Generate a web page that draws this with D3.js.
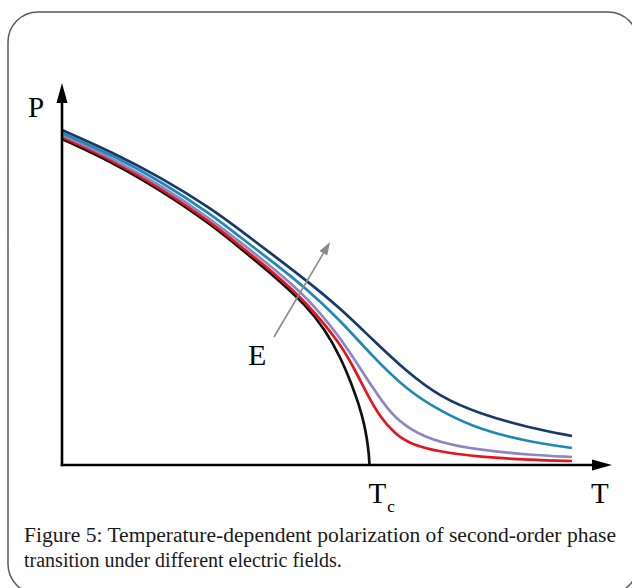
<!DOCTYPE html>
<html><head><meta charset="utf-8">
<script src="https://cdn.jsdelivr.net/npm/d3@7"></script>
<style>
html,body{margin:0;padding:0;background:#fff;}
svg{display:block;}
</style></head>
<body>
<svg id="chart" width="632" height="588"></svg>
<script>
// Temperature and polarization in arbitrary units (schematic figure)
const tDomain = [0, 550];
const pDomain = [0, 382];
const Tc = 307.5;

// E = 0: second-order transition, P drops to zero at Tc
const blackT = [0, 50, 100, 150, 178, 211, 245, 263, 278, 290, 297, 302, 305, 306.8, 307.5];
const blackP = [326, 303, 274, 240, 217, 190, 159, 135, 109, 80, 60, 42, 26, 12, 0];
// increasing electric field E
const redT = [0, 50, 100, 150, 178, 211, 245, 278, 293, 305, 318, 333, 348, 378, 418, 468, 510];
const redP = [328, 305, 276, 242, 219, 193, 162, 122, 95, 71, 48, 31, 21, 13, 8, 5, 4];
const lavT = [0, 50, 100, 150, 178, 211, 245, 278, 298, 311, 328, 348, 378, 418, 468, 510];
const lavP = [330, 307, 279, 245, 223, 197, 168, 128, 97, 77, 52, 35, 22, 15, 10, 8];
const tealT = [0, 50, 100, 150, 178, 211, 245, 278, 311, 345, 378, 418, 468, 510];
const tealP = [332, 310, 283, 250, 228, 203, 176, 145, 108, 75, 54, 35, 23, 17];
const navyT = [0, 50, 100, 150, 178, 211, 245, 278, 311, 345, 378, 418, 468, 510];
const navyP = [335, 313, 287, 256, 235, 210, 184, 157, 125, 93, 68, 51, 37, 29];

const seriesColors = ["#111111", "#e3161d", "#8c86c2", "#1f88b3", "#173a6b"];
const seriesT = [blackT, redT, lavT, tealT, navyT];
const seriesP = [blackP, redP, lavP, tealP, navyP];

const caption1 = "Figure 5: Temperature-dependent polarization of second-order phase";
const caption2 = "transition under different electric fields.";

const svg = d3.select("#chart");
const x = d3.scaleLinear().domain(tDomain).range([62, 612]);
const y = d3.scaleLinear().domain(pDomain).range([465, 83]);

// rounded frame
svg.append("rect").attr("x", 8).attr("y", 12).attr("width", 630).attr("height", 582)
  .attr("rx", 30).attr("ry", 30).attr("fill", "none").attr("stroke", "#5a5a5a").attr("stroke-width", 1.5);

const line = d3.line().x(d => x(d[0])).y(d => y(d[1])).curve(d3.curveBasis);
[0, 1, 2, 3, 4].forEach(i => {
  const pts = seriesT[i].map((t, k) => [t, seriesP[i][k]]);
  svg.append("path").datum(pts).attr("d", line)
    .attr("fill", "none").attr("stroke", seriesColors[i]).attr("stroke-width", 2.7);
});

// axes with arrowheads
const axisColor = "#000";
svg.append("line").attr("x1", x(0)).attr("y1", y(0) + 1.3).attr("x2", x(0)).attr("y2", y(pDomain[1]) + 14)
  .attr("stroke", axisColor).attr("stroke-width", 2.6);
svg.append("path")
  .attr("d", `M${x(0)},${y(pDomain[1])} L${x(0)-5.5},${y(pDomain[1])+20} L${x(0)+5.5},${y(pDomain[1])+20} Z`)
  .attr("fill", axisColor);
svg.append("line").attr("x1", x(0) - 1.3).attr("y1", y(0)).attr("x2", x(tDomain[1]) - 14).attr("y2", y(0))
  .attr("stroke", axisColor).attr("stroke-width", 2.6);
svg.append("path")
  .attr("d", `M${x(tDomain[1])},${y(0)} L${x(tDomain[1])-20},${y(0)-5.5} L${x(tDomain[1])-20},${y(0)+5.5} Z`)
  .attr("fill", axisColor);

// E arrow
const eFrom = [212, 128], eTo = [268, 223];
const ex1 = x(eFrom[0]), ey1 = y(eFrom[1]), ex2 = x(eTo[0]), ey2 = y(eTo[1]);
const ang = Math.atan2(ey2 - ey1, ex2 - ex1);
const hl = 13, hw = 4.5;
const bx = ex2 - hl * Math.cos(ang), by = ey2 - hl * Math.sin(ang);
svg.append("line").attr("x1", ex1).attr("y1", ey1).attr("x2", bx).attr("y2", by)
  .attr("stroke", "#8a8a8a").attr("stroke-width", 1.6);
svg.append("path")
  .attr("d", `M${ex2},${ey2} L${bx + hw*Math.sin(ang)},${by - hw*Math.cos(ang)} L${bx - hw*Math.sin(ang)},${by + hw*Math.cos(ang)} Z`)
  .attr("fill", "#8a8a8a");

const serif = "'Liberation Serif', 'DejaVu Serif', serif";
svg.append("text").attr("x", 28).attr("y", 117).attr("font-family", serif).attr("font-size", 29).text("P");
svg.append("text").attr("x", 248).attr("y", 365).attr("font-family", serif).attr("font-size", 30).text("E");
const tc = svg.append("text").attr("x", x(Tc) - 1).attr("y", 503).attr("font-family", serif).attr("font-size", 29);
tc.append("tspan").text("T");
tc.append("tspan").attr("font-size", 17).attr("dy", 9).attr("dx", 1).text("c");
svg.append("text").attr("x", 591).attr("y", 503).attr("font-family", serif).attr("font-size", 29).text("T");

svg.append("text").attr("x", 24).attr("y", 542).attr("font-family", serif).attr("font-size", 20)
  .attr("fill", "#1a1a1a").attr("textLength", 592).attr("lengthAdjust", "spacingAndGlyphs").text(caption1);
svg.append("text").attr("x", 24).attr("y", 567).attr("font-family", serif).attr("font-size", 20)
  .attr("fill", "#1a1a1a").text(caption2);
</script>
</body></html>
